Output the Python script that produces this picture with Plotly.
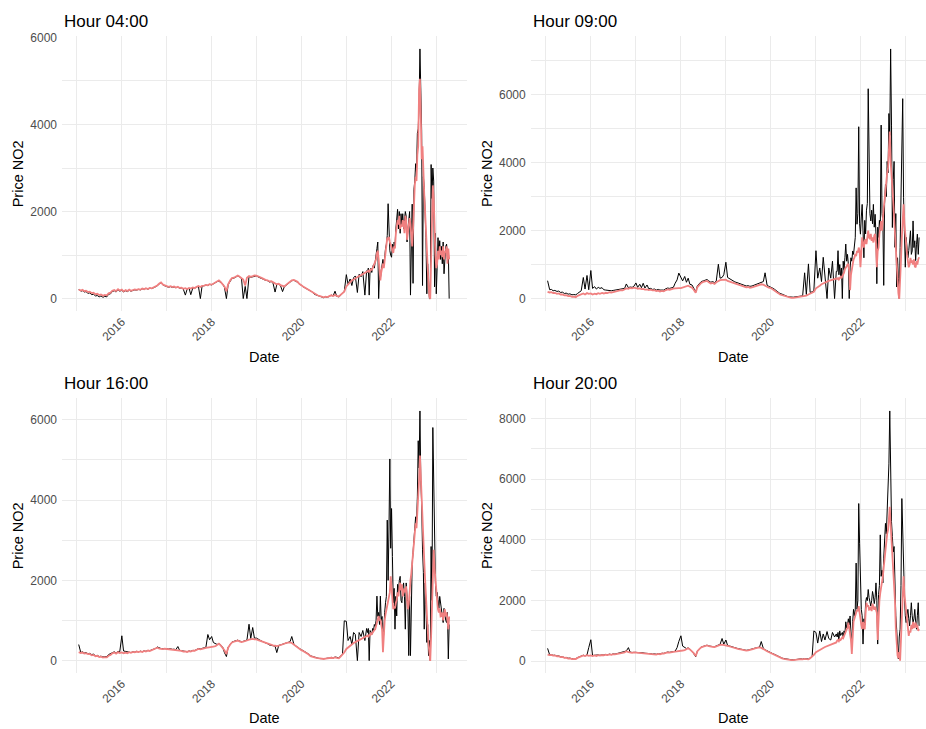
import pandas as pd
import plotly.graph_objects as go

EARLY_START = "2015-01-15"   # twice-monthly readings (1st and 15th) up to mid-2021
LATE_START = "2021-06-22"    # weekly readings from mid-2021 onwards

# ---------------- Hour 04:00 ----------------
h04_actual_early = [
    220, 170, 180, 150, 160, 120, 130, 90, 100, 60, 70, 40, 60, 30, 50, 40, 100, 110, 160, 180, 150, 200, 170,
    190, 150, 180, 160, 190, 170, 185, 200, 195, 210, 200, 225, 210, 235, 215, 240, 230, 250, 265, 290, 340, 360, 310, 290,
    280, 260, 275, 255, 270, 250, 260, 240, 245, 220, 80, 215, 240, 90, 250, 235, 265, 285, 0, 290, 295, 310, 300, 325,
    315, 340, 350, 390, 400, 370, 330, 260, 0, 320, 410, 460, 470, 490, 520, 500, 460, 0, 280, 0, 510, 490, 505, 520,
    520, 495, 480, 465, 440, 420, 410, 380, 390, 360, 150, 320, 330, 300, 160, 270, 310, 340, 380, 410, 420, 400, 375, 330,
    310, 270, 245, 220, 195, 165, 150, 100, 80, 60, 50, 30, 20, 40, 30, 50, 80, 60, 170, 50, 40, 70, 110, 160,
    550, 330, 450, 300, 480, 520, 140, 560, 500, 620, 80, 640,
]
h04_fitted_early = [
    210, 185, 200, 170, 180, 150, 160, 125, 135, 100, 110, 80, 95, 65, 85, 75, 120, 135, 180, 195, 170, 215, 185,
    205, 165, 195, 175, 205, 180, 195, 210, 200, 215, 205, 230, 215, 240, 220, 245, 235, 255, 270, 300, 345, 370, 320, 300,
    290, 270, 285, 265, 280, 255, 270, 245, 250, 225, 240, 220, 245, 230, 255, 240, 270, 290, 265, 295, 300, 315, 305, 330,
    320, 345, 360, 395, 420, 385, 340, 280, 170, 330, 420, 470, 480, 500, 530, 505, 470, 440, 300, 480, 520, 500, 515, 530,
    525, 500, 490, 470, 445, 430, 420, 395, 400, 370, 350, 330, 340, 310, 300, 280, 320, 350, 390, 420, 430, 415, 385, 340,
    300, 280, 250, 225, 200, 170, 140, 110, 90, 70, 55, 40, 30, 45, 35, 55, 75, 60, 85, 60, 50, 85, 120, 160,
    280, 330, 380, 420, 440, 470, 500, 520, 540, 560, 590, 610,
]
h04_actual_late = [
    600, 700, 80, 650, 700, 600,
    720, 780, 700, 900, 950,
    1150, 1300, 0, 550, 450,
    650, 750, 900, 750, 1000,
    1150, 1250, 1450, 2180, 1300,
    1100, 1000, 950, 1250, 1100,
    1300, 1200, 1600, 1900, 2050,
    1600, 2000, 1500, 1950, 1700,
    1950, 1600, 1750, 2000, 1900,
    1300, 1600, 1900, 2000, 80,
    1500, 2170, 350, 2500, 2700,
    3100, 2900, 3800, 3900, 4500,
    5736, 4300, 3850, 300, 2800,
    2550, 2100, 1400, 110, 800,
    400, 0, 0, 3080, 2300,
    3000, 2700, 270, 1500, 110,
    700, 1400, 1000, 1330, 900,
    1200, 800, 1300, 570, 1100,
    1200, 1250, 900, 1100, 0,
]
h04_fitted_late = [
    620, 640, 600, 660, 680, 650,
    700, 720, 760, 850, 900,
    1050, 1100, 900, 500, 420,
    600, 720, 800, 700, 900,
    1100, 1300, 1400, 1350, 1420,
    1300, 1200, 1180, 1100, 1050,
    1200, 1150, 1500, 1700, 1800,
    1700, 1900, 1600, 1700, 1650,
    1800, 1750, 1500, 1900, 1800,
    1350, 1500, 1750, 1850, 1700,
    1400, 1200, 1600, 2400, 2600,
    2800, 2700, 3300, 3500, 4800,
    5050, 4200, 3200, 3500, 2700,
    2400, 2000, 1500, 900, 700,
    300, 50, -10, 900, 2100,
    2600, 2300, 1200, 1000, 700,
    800, 1100, 900, 1200, 1000,
    1100, 950, 1200, 900, 1050,
    1100, 1200, 800, 1150, 900,
]

# ---------------- Hour 09:00 ----------------
h09_actual_early = [
    525, 260, 270, 230, 240, 210, 220, 180, 190, 150, 160, 130, 140, 110, 120, 110, 150, 200, 230, 620, 280, 680, 260,
    825, 300, 350, 280, 330, 300, 320, 260, 250, 240, 250, 230, 240, 250, 260, 270, 290, 280, 300, 430, 320, 340, 330, 360,
    460, 330, 420, 320, 450, 310, 400, 290, 300, 270, 280, 250, 270, 250, 260, 250, 290, 310, 300, 320, 330, 450, 550, 750,
    600, 520, 650, 480, 600, 420, 400, 300, 200, 380, 460, 500, 520, 540, 560, 520, 480, 500, 470, 520, 1010, 600, 620, 700,
    1069, 620, 580, 540, 520, 490, 470, 450, 440, 410, 390, 370, 380, 360, 370, 390, 410, 430, 450, 480, 500, 758, 400, 360,
    340, 310, 270, 230, 190, 150, 130, 100, 80, 60, 50, 40, 40, 50, 60, 70, 90, 80, 758, 120, 1020, 180, 200, 240,
    1408, 600, 900, 500, 1214, 700, 0, 900, 600, 1100, 0, 800,
]
h09_fitted_early = [
    200, 180, 190, 165, 170, 140, 150, 120, 125, 95, 100, 75, 80, 50, 60, 40, 80, 100, 130, 150, 120, 160, 140,
    150, 120, 145, 130, 160, 140, 165, 150, 170, 160, 185, 175, 190, 200, 210, 230, 250, 240, 265, 300, 290, 310, 300, 320,
    310, 290, 300, 280, 285, 265, 270, 250, 260, 240, 245, 220, 235, 210, 225, 215, 250, 270, 260, 280, 290, 300, 295, 310,
    310, 330, 340, 360, 380, 350, 320, 260, 170, 340, 420, 460, 490, 505, 520, 480, 440, 460, 430, 480, 520, 540, 550, 560,
    555, 520, 500, 480, 460, 440, 430, 410, 400, 370, 350, 330, 340, 320, 330, 350, 370, 390, 400, 420, 410, 380, 350, 320,
    310, 280, 240, 200, 160, 120, 100, 80, 60, 40, 30, 20, 20, 30, 40, 50, 70, 60, 80, 90, 120, 150, 170, 200,
    300, 350, 380, 420, 450, 470, 500, 520, 540, 560, 580, 590,
]
h09_actual_late = [
    800, 1409, 700, 1000, 650, 900,
    0, 1100, 850, 1200, 1604,
    1100, 1300, 1000, 0, 900,
    1200, 1100, 1400, 1300, 1500,
    1800, 3256, 2187, 2500, 5054,
    2200, 1895, 2400, 2770, 2000,
    1200, 2300, 1900, 2600, 2800,
    6172, 3062, 2500, 2284, 2600,
    2200, 2770, 2100, 2479, 1900,
    437, 2100, 1800, 2300, 2000,
    5103, 2500, 2284, 388, 2800,
    3353, 3000, 4034, 3700, 5443,
    4800, 7342, 5103, 2090, 3500,
    4034, 1507, 2500, 340, 1200,
    600, 0, 1500, 3353, 4000,
    5880, 2965, 2200, 923, 1800,
    1507, 1200, 1409, 1700, 1993,
    1300, 1400, 2284, 1500, 1700,
    1118, 1600, 1895, 1300, 1798,
]
h09_fitted_late = [
    580, 600, 560, 620, 640, 600,
    650, 700, 760, 870, 900,
    950, 1000, 1020, 800, 250,
    700, 920, 1000, 1150, 1200,
    1310, 1250, 1400, 1350, 1500,
    1400, 920, 1300, 1800, 1600,
    1500, 1700, 1750, 1600, 1900,
    2000, 1800, 1750, 1900, 1700,
    1800, 1650, 1850, 1900, 1600,
    920, 1400, 1500, 1900, 2100,
    2280, 2000, 2500, 2670, 2900,
    3250, 3300, 3700, 3840, 4400,
    4910, 4030, 3500, 3200, 2870,
    2400, 1900, 1500, 920, 600,
    150, -11, 400, 1120, 1800,
    2400, 2770, 2200, 1800, 1500,
    1300, 1100, 920, 1000, 1200,
    1050, 1120, 1000, 1150, 950,
    920, 1100, 1000, 1150, 1215,
]

# ---------------- Hour 16:00 ----------------
h16_actual_early = [
    400, 200, 220, 190, 200, 170, 180, 150, 160, 120, 130, 100, 110, 90, 100, 100, 150, 170, 200, 220, 190, 230, 220,
    618, 240, 230, 210, 220, 200, 220, 210, 230, 215, 235, 220, 245, 230, 255, 245, 270, 285, 300, 340, 310, 300, 295, 305,
    300, 290, 295, 280, 285, 270, 350, 255, 250, 235, 240, 220, 240, 230, 255, 250, 275, 300, 290, 310, 320, 330, 650, 520,
    600, 450, 420, 400, 430, 390, 330, 200, 100, 330, 410, 460, 480, 500, 510, 490, 470, 480, 490, 510, 906, 550, 824, 560,
    560, 530, 500, 480, 460, 445, 420, 390, 380, 370, 360, 200, 380, 390, 410, 430, 450, 460, 470, 600, 410, 370, 330, 300,
    270, 250, 220, 190, 160, 120, 100, 85, 70, 60, 50, 50, 40, 50, 60, 60, 80, 60, 90, 80, 70, 110, 160, 990,
    980, 500, 600, 400, 700, 650, 0, 700, 600, 750, 500, 800,
]
h16_fitted_early = [
    210, 190, 200, 175, 185, 160, 165, 130, 140, 110, 120, 90, 100, 75, 85, 80, 120, 140, 180, 200, 175, 210, 190,
    205, 180, 200, 185, 210, 195, 215, 205, 225, 210, 230, 215, 240, 225, 250, 240, 265, 280, 290, 320, 300, 290, 285, 295,
    290, 280, 285, 270, 275, 260, 265, 245, 240, 225, 230, 215, 235, 225, 250, 245, 270, 290, 280, 300, 305, 315, 320, 335,
    330, 350, 360, 390, 420, 380, 320, 260, 165, 320, 400, 450, 470, 490, 500, 480, 460, 470, 480, 500, 520, 535, 540, 530,
    530, 510, 490, 470, 455, 440, 420, 400, 390, 380, 370, 360, 370, 380, 400, 420, 440, 450, 455, 440, 400, 360, 320, 290,
    260, 240, 210, 180, 150, 110, 90, 80, 70, 60, 50, 50, 40, 50, 60, 58, 70, 60, 80, 70, 60, 100, 150, 200,
    290, 330, 370, 410, 440, 460, 490, 510, 540, 560, 590, 610,
]
h16_actual_late = [
    700, 800, 0, 750, 700, 650,
    800, 750, 900, 850, 1000,
    1607, 1100, 1200, 900, 1607,
    1000, 1100, 300, 1000, 1200,
    1442, 1600, 3502, 2000, 3255,
    5026, 2800, 3790, 2596, 1442,
    1800, 783, 1600, 1112, 1900,
    1700, 2000, 2100, 1500, 1442,
    1800, 1936, 1600, 783, 1936,
    1700, 1300, 124, 1600, 124,
    1900, 2430, 2700, 3172, 3300,
    3584, 3400, 4079, 5480, 4800,
    6222, 4491, 3900, 2760, 2200,
    783, 1936, 1400, 453, 900,
    124, 500, 0, 2843, 1500,
    5809, 4079, 2500, 1936, 1607,
    1700, 1524, 1300, 1600, 1442,
    1277, 1100, 948, 1300, 1112,
    1000, 948, 1200, 41, 900,
]
h16_fitted_late = [
    620, 600, 640, 630, 680, 660,
    700, 720, 760, 780, 850,
    950, 1050, 1110, 1000, 1030,
    900, 780, 210, 860, 1000,
    1150, 1280, 1400, 1500, 1600,
    1700, 2100, 1800, 1500, 1280,
    1350, 1300, 1440, 1500, 1700,
    1600, 1800, 1940, 1750, 1900,
    1600, 1690, 1800, 1700, 1850,
    1500, 1280, 1400, 1800, 2000,
    2180, 2400, 2800, 3010, 3200,
    3420, 3300, 3700, 3830, 4500,
    5110, 4500, 4080, 3500, 3090,
    2500, 2020, 1500, 1000, 780,
    400, 200, -9, 600, 1200,
    1900, 2760, 2300, 1940, 1700,
    1500, 1280, 1200, 1300, 1100,
    1110, 1200, 1000, 1150, 1280,
    1100, 1200, 1000, 780, 1100,
]

# ---------------- Hour 20:00 ----------------
h20_actual_early = [
    425, 210, 220, 195, 200, 170, 180, 145, 150, 120, 125, 100, 105, 80, 90, 85, 120, 140, 180, 200, 180, 210, 450,
    710, 190, 200, 185, 210, 195, 215, 205, 225, 215, 235, 220, 245, 235, 255, 250, 270, 285, 300, 340, 450, 300, 290, 300,
    295, 285, 290, 275, 280, 265, 270, 255, 250, 235, 245, 230, 250, 240, 265, 260, 285, 305, 295, 315, 320, 330, 450, 650,
    840, 500, 450, 420, 440, 400, 340, 250, 150, 340, 420, 470, 490, 510, 530, 505, 480, 485, 480, 510, 530, 560, 750, 560,
    700, 520, 500, 480, 460, 445, 430, 410, 400, 385, 370, 360, 370, 380, 400, 420, 440, 455, 465, 650, 420, 380, 340, 310,
    280, 255, 225, 195, 160, 125, 105, 90, 75, 65, 55, 50, 45, 55, 65, 65, 80, 70, 90, 80, 75, 110, 160, 1000,
    950, 600, 1000, 650, 900, 700, 980, 750, 700, 950, 800, 900,
]
h20_fitted_early = [
    220, 200, 210, 185, 190, 160, 170, 135, 140, 110, 115, 90, 95, 70, 80, 75, 110, 130, 170, 190, 170, 200, 180,
    195, 170, 190, 175, 200, 185, 205, 195, 215, 205, 225, 210, 235, 225, 245, 240, 260, 275, 290, 330, 300, 285, 280, 290,
    285, 275, 280, 265, 270, 255, 260, 245, 240, 225, 235, 220, 240, 230, 255, 250, 275, 295, 285, 305, 310, 320, 325, 340,
    335, 355, 370, 400, 430, 390, 330, 270, 170, 330, 410, 460, 480, 500, 520, 495, 470, 475, 470, 500, 520, 540, 545, 535,
    530, 505, 490, 470, 450, 435, 420, 400, 390, 375, 360, 350, 360, 370, 390, 410, 430, 445, 455, 440, 410, 370, 330, 300,
    270, 245, 215, 185, 150, 115, 95, 80, 65, 55, 45, 40, 35, 45, 55, 55, 70, 60, 80, 70, 65, 100, 150, 210,
    300, 340, 380, 410, 440, 470, 500, 530, 550, 570, 600, 620,
]
h20_actual_late = [
    800, 950, 700, 1000, 850, 900,
    950, 800, 1000, 900, 1300,
    1100, 1200, 1400, 1200, 1493,
    1100, 400, 1300, 1711, 1500,
    1700, 3237, 1711, 2000, 5199,
    3891, 2200, 1711, 1500, 567,
    1400, 1200, 1929, 2100, 2000,
    2365, 2100, 1900, 1820, 2000,
    2300, 2147, 1900, 2100, 2583,
    2000, 567, 2200, 2500, 4166,
    2800, 3000, 2583, 3400, 4000,
    4545, 4200, 5000, 5962, 6507,
    8251, 5090, 4600, 4109, 3600,
    3782, 2147, 1500, 1057, 400,
    76, 800, 1057, 2500, 5363,
    4327, 3000, 2147, 1500, 1275,
    1500, 1711, 1400, 1166, 1500,
    1929, 1500, 1275, 1400, 1711,
    1300, 1057, 1500, 1929, 1166,
]
h20_fitted_late = [
    680, 700, 660, 720, 700, 740,
    785, 760, 850, 900, 950,
    1050, 1100, 1275, 1100, 900,
    700, 240, 1057, 1300, 1400,
    1493, 1600, 1700, 1650, 1820,
    1600, 1275, 1200, 1057, 1300,
    1100, 1057, 1600, 1929, 1800,
    1850, 1700, 1711, 1800, 1650,
    1900, 1820, 1700, 1800, 1650,
    1602, 700, 1800, 2000, 2256,
    2400, 2600, 2801, 3100, 3400,
    3782, 4000, 4200, 4327, 4700,
    5090, 4500, 4000, 3500, 3000,
    2583, 2000, 1057, 600, 185,
    100, 300, 22, 900, 1711,
    2300, 2801, 2200, 1900, 1602,
    1300, 1000, 839, 1000, 950,
    1200, 1057, 1300, 1100, 1200,
    1275, 1100, 1200, 1000, 1057,
]

panel_titles = ["Hour 04:00", "Hour 09:00", "Hour 16:00", "Hour 20:00"]
y_title = "Price NO2"
x_title = "Date"


def series_dates(early, late):
    d1 = pd.date_range(EARLY_START, periods=len(early), freq="SMS")
    d2 = pd.date_range(LATE_START, periods=len(late), freq="7D")
    return list(d1) + list(d2)


# ---------------- layout geometry (pixels) ----------------
W, H = 926, 729
FONT = "Liberation Sans, Arial, Helvetica, sans-serif"
GRID = "#EBEBEB"
TICK_GREY = "#4D4D4D"
ACTUAL_COLOR = "black"
FITTED_COLOR = "#F08080"

panels = [
    dict(actual=(h04_actual_early, h04_actual_late), fitted=(h04_fitted_early, h04_fitted_late),
         box=(62, 467, 30.7, 308), xr=("2014-09-01", "2023-09-10"), yr=(-296, 6023),
         title_xy=(62, 16), date_xy=(264.5, 353.5), price_xy=(18.3, 169.4)),
    dict(actual=(h09_actual_early, h09_actual_late), fitted=(h09_fitted_early, h09_fitted_late),
         box=(530.7, 926, 30.7, 308), xr=("2014-08-31", "2023-06-13"), yr=(-379, 7710),
         title_xy=(530.7, 16), date_xy=(733.7, 353.5), price_xy=(487, 169.4)),
    dict(actual=(h16_actual_early, h16_actual_late), fitted=(h16_fitted_early, h16_fitted_late),
         box=(62, 467, 395.7, 673), xr=("2014-09-01", "2023-09-10"), yr=(-321, 6534),
         title_xy=(62, 381), date_xy=(264.5, 717.5), price_xy=(18.3, 534.4)),
    dict(actual=(h20_actual_early, h20_actual_late), fitted=(h20_fitted_early, h20_fitted_late),
         box=(530.7, 926, 395.7, 673), xr=("2014-08-31", "2023-06-13"), yr=(-402, 8663),
         title_xy=(530.7, 381), date_xy=(733.7, 717.5), price_xy=(487, 534.4)),
]

fig = go.Figure()
annotations = []
layout_axes = {}

for i, p in enumerate(panels):
    n = "" if i == 0 else str(i + 1)
    xa, ya = "x" + n, "y" + n

    a_early, a_late = p["actual"]
    f_early, f_late = p["fitted"]
    fig.add_trace(go.Scatter(
        x=series_dates(a_early, a_late), y=list(a_early) + list(a_late),
        mode="lines", line=dict(color=ACTUAL_COLOR, width=1.0),
        xaxis=xa, yaxis=ya, showlegend=False, hoverinfo="skip"))
    fig.add_trace(go.Scatter(
        x=series_dates(f_early, f_late), y=list(f_early) + list(f_late),
        mode="lines", line=dict(color=FITTED_COLOR, width=1.8),
        xaxis=xa, yaxis=ya, showlegend=False, hoverinfo="skip"))

    left, right, top, bottom = p["box"]
    layout_axes["xaxis" + n] = dict(
        domain=[left / W, right / W], anchor=ya, type="date", range=list(p["xr"]),
        tick0="2016-01-01", dtick="M24", tickformat="%Y", tickangle=-45,
        tickfont=dict(family=FONT, size=12, color=TICK_GREY),
        ticks="", showline=False, zeroline=False,
        showgrid=True, gridcolor=GRID, gridwidth=1.1,
        minor=dict(tick0="2015-01-01", dtick="M12", showgrid=True, gridcolor=GRID, gridwidth=0.7),
    )
    layout_axes["yaxis" + n] = dict(
        domain=[1 - bottom / H, 1 - top / H], anchor=xa, range=list(p["yr"]),
        tick0=0, dtick=2000, tickformat="d",
        tickfont=dict(family=FONT, size=12, color=TICK_GREY),
        ticks="", showline=False, zeroline=False, ticklabelstandoff=4,
        showgrid=True, gridcolor=GRID, gridwidth=1.1,
        minor=dict(tick0=0, dtick=1000, showgrid=True, gridcolor=GRID, gridwidth=0.7),
    )

    tx, ty = p["title_xy"]
    annotations.append(dict(text=panel_titles[i], x=tx / W, y=1 - ty / H, xref="paper", yref="paper",
                            xanchor="left", yanchor="middle", showarrow=False,
                            font=dict(family=FONT, size=17, color="black")))
    dx, dy = p["date_xy"]
    annotations.append(dict(text=x_title, x=dx / W, y=1 - dy / H, xref="paper", yref="paper",
                            xanchor="center", yanchor="middle", showarrow=False,
                            font=dict(family=FONT, size=14.5, color="black")))
    px_, py_ = p["price_xy"]
    annotations.append(dict(text=y_title, x=px_ / W, y=1 - py_ / H, xref="paper", yref="paper",
                            xanchor="center", yanchor="middle", textangle=-90, showarrow=False,
                            font=dict(family=FONT, size=14.5, color="black")))

fig.update_layout(
    width=W, height=H, margin=dict(l=0, r=0, t=0, b=0),
    paper_bgcolor="white", plot_bgcolor="white",
    font=dict(family=FONT), annotations=annotations, **layout_axes,
)

fig.write_html("out.html")
